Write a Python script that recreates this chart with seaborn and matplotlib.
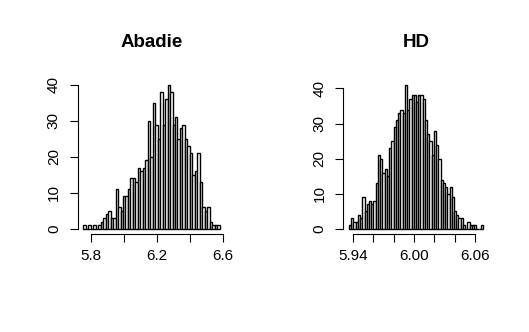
import numpy as np
import pandas as pd
import matplotlib
matplotlib.use("Agg")
import matplotlib.pyplot as plt
import seaborn as sns

# Histogram counts (R-style hist, narrow bins)
abadie_start = 5.757
abadie_width = 0.015
abadie_counts = [1, 0, 1, 0, 1, 0, 1, 2, 3, 4, 5, 3, 3, 11, 6, 5, 9, 9, 11,
                 14, 14, 13, 17, 16, 17, 19, 30, 20, 35, 29, 25, 38, 29, 36,
                 40, 38, 29, 31, 25, 28, 29, 25, 23, 21, 15, 16, 21, 13, 6,
                 5, 6, 2, 1, 1, 1]

hd_start = 5.9358
hd_width = 0.0022
hd_counts = [1, 3, 2, 2, 4, 3, 9, 5, 7, 8, 7, 8, 13, 21, 20, 16, 17, 15, 23,
             25, 29, 31, 33, 34, 33, 41, 34, 37, 38, 38, 36, 38, 38, 37, 31,
             27, 25, 21, 28, 24, 20, 14, 13, 12, 10, 12, 9, 5, 4, 3, 3, 1, 0,
             2, 1, 1, 1, 0, 0, 1]

abadie_xticks = [5.8, 6.0, 6.2, 6.4, 6.6]
abadie_xlabels = ["5.8", "", "6.2", "", "6.6"]
hd_xticks = [5.94, 5.96, 5.98, 6.00, 6.02, 6.04, 6.06]
hd_xlabels = ["5.94", "", "", "6.00", "", "", "6.06"]
yticks = [0, 10, 20, 30, 40]

sns.set_style("white")
plt.rcParams["font.family"] = ["Liberation Sans", "DejaVu Sans"]
plt.rcParams["text.color"] = "black"
plt.rcParams["xtick.color"] = "black"
plt.rcParams["ytick.color"] = "black"


def draw_hist(ax, start, width, counts, xticks, xlabels, title):
    n = len(counts)
    edges = start + width * np.arange(n + 1)
    df = pd.DataFrame({"x": edges[:-1] + width / 2, "n": counts})
    sns.histplot(data=df, x="x", weights="n", bins=edges.tolist(), ax=ax,
                 color="white", edgecolor="black", linewidth=1.0, alpha=1)
    pad_x = (edges[-1] - edges[0]) * 0.04
    ax.set_xlim(edges[0] - pad_x, edges[-1] + pad_x)
    top = max(counts)
    ax.set_ylim(-0.04 * top, top * 1.04)
    sns.despine(ax=ax)
    ax.spines["left"].set_bounds(0, 40)
    ax.spines["bottom"].set_bounds(xticks[0], xticks[-1])
    for s in ["left", "bottom"]:
        ax.spines[s].set_color("black")
        ax.spines[s].set_linewidth(0.8)
    ax.set_xticks(xticks)
    ax.set_xticklabels(xlabels)
    ax.set_yticks(yticks)
    ax.set_yticklabels([str(v) for v in yticks], rotation=90, va="center")
    ax.tick_params(direction="out", length=5.8, width=0.8, color="black",
                   labelsize=11, labelcolor="black", left=True, bottom=True)
    ax.tick_params(axis="x", pad=5)
    ax.tick_params(axis="y", pad=6.5)
    ax.set_xlabel("")
    ax.set_ylabel("")
    ax.set_title(title, fontsize=13.5, fontweight="bold", pad=23,
                 color="black")


fig = plt.figure(figsize=(5.29, 3.32), dpi=100)
ax1 = fig.add_axes([0.1474, 0.2937, 0.2779, 0.4677])
ax2 = fig.add_axes([0.6493, 0.2937, 0.2741, 0.4677])

draw_hist(ax1, abadie_start, abadie_width, abadie_counts,
          abadie_xticks, abadie_xlabels, "Abadie")
draw_hist(ax2, hd_start, hd_width, hd_counts,
          hd_xticks, hd_xlabels, "HD")

fig.savefig("out.png", dpi=100)
